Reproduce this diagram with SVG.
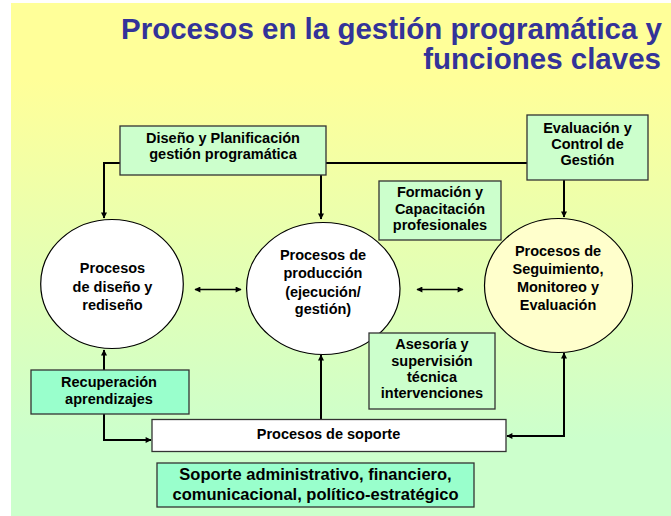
<svg xmlns="http://www.w3.org/2000/svg" width="671" height="516" viewBox="0 0 671 516">
<defs>
<linearGradient id="bg" x1="0" y1="0" x2="0" y2="1">
<stop offset="0" stop-color="#FFFF99"/>
<stop offset="0.15" stop-color="#FFFF99"/>
<stop offset="0.85" stop-color="#CCFFCC"/>
<stop offset="1" stop-color="#CCFFCC"/>
</linearGradient>
<marker id="ah" viewBox="0 0 10 10" refX="9" refY="5" markerWidth="7" markerHeight="6" markerUnits="userSpaceOnUse" orient="auto-start-reverse">
<path d="M0,0 L10,5 L0,10 z" fill="#000"/>
</marker>
<style>
text{font-family:"Liberation Sans",Arial,sans-serif;font-weight:bold;fill:#000;text-anchor:middle}
.t{font-size:14.5px}
.big{font-size:16.5px}
.title{font-size:29.5px;fill:#333399;text-anchor:end}
.box{fill:#CCFFCC;stroke:#333;stroke-width:1.3}
.mint{fill:#99FFCC;stroke:#333;stroke-width:1.3}
.circ{fill:#FFFFFF;stroke:#000;stroke-width:1.2}
.conn path{fill:none;stroke:#000;stroke-width:2}
.conn path.thin{stroke-width:1.6}
</style>
</defs>
<rect x="0" y="0" width="671" height="516" fill="#FFFFFF"/>
<rect x="11" y="3" width="660" height="513" fill="url(#bg)"/>

<g id="title">
<text class="title" x="662" y="39">Procesos en la gestión programática y</text>
<text class="title" x="661" y="69">funciones claves</text>
</g>

<g id="connectors" class="conn">
<path d="M120,163 H104 V218" marker-end="url(#ah)"/>
<path d="M321,175 V219" marker-end="url(#ah)"/>
<path d="M326,163 H527"/>
<path d="M564,180 V217" marker-end="url(#ah)"/>
<path class="thin" d="M195,289.5 H241" marker-start="url(#ah)" marker-end="url(#ah)"/>
<path class="thin" d="M417,289.5 H463" marker-start="url(#ah)" marker-end="url(#ah)"/>
<path d="M104,370 V350" marker-end="url(#ah)"/>
<path d="M104,414 V440 H151" marker-end="url(#ah)"/>
<path d="M321,419 V355" marker-end="url(#ah)"/>
<path d="M564,353 V436 H507" marker-start="url(#ah)" marker-end="url(#ah)"/>
</g>

<g id="diseno-planificacion">
<rect class="box" x="120" y="126" width="206" height="49"/>
<text class="t" x="223" y="143">Diseño y Planificación</text>
<text class="t" x="223" y="159">gestión programática</text>
</g>

<g id="evaluacion-control">
<rect class="box" x="527" y="115" width="121" height="65"/>
<text class="t" x="587.5" y="133">Evaluación y</text>
<text class="t" x="587.5" y="149">Control de</text>
<text class="t" x="587.5" y="165">Gestión</text>
</g>

<g id="formacion">
<rect class="box" x="379" y="181" width="122" height="59"/>
<text class="t" x="440" y="197">Formación y</text>
<text class="t" x="440" y="214">Capacitación</text>
<text class="t" x="440" y="230">profesionales</text>
</g>

<g id="procesos-diseno">
<ellipse class="circ" cx="112" cy="284" rx="71.3" ry="64.5"/>
<text class="t" x="112.5" y="273">Procesos</text>
<text class="t" x="112.5" y="292">de diseño y</text>
<text class="t" x="112.5" y="310">rediseño</text>
</g>

<g id="procesos-produccion">
<ellipse class="circ" cx="323.3" cy="288.5" rx="76.7" ry="66"/>
<text class="t" x="323" y="260">Procesos de</text>
<text class="t" x="323" y="278">producción</text>
<text class="t" x="323" y="296.5">(ejecución/</text>
<text class="t" x="323" y="314">gestión)</text>
</g>

<g id="procesos-seguimiento">
<ellipse class="circ" cx="558.5" cy="285.5" rx="74" ry="67" style="fill:#FFFFCC"/>
<text class="t" x="558" y="256">Procesos de</text>
<text class="t" x="558" y="274">Seguimiento,</text>
<text class="t" x="558" y="292">Monitoreo y</text>
<text class="t" x="558" y="310">Evaluación</text>
</g>

<g id="asesoria">
<rect class="box" x="369" y="333" width="126" height="76"/>
<text class="t" x="432" y="349">Asesoría y</text>
<text class="t" x="432" y="366">supervisión</text>
<text class="t" x="432" y="382">técnica</text>
<text class="t" x="432" y="398">intervenciones</text>
</g>

<g id="recuperacion">
<rect class="mint" x="31" y="370" width="158" height="44"/>
<text class="t" x="109" y="387">Recuperación</text>
<text class="t" x="109" y="404">aprendizajes</text>
</g>

<g id="procesos-soporte">
<rect x="152" y="419.5" width="354" height="32" fill="#FFFFFF" stroke="#333" stroke-width="1.3"/>
<text class="t" x="328.5" y="439">Procesos de soporte</text>
</g>

<g id="soporte-administrativo">
<rect class="mint" x="157" y="463" width="317" height="44"/>
<text class="big" x="315.5" y="480">Soporte administrativo, financiero,</text>
<text class="big" x="315.5" y="500">comunicacional, político-estratégico</text>
</g>
</svg>
